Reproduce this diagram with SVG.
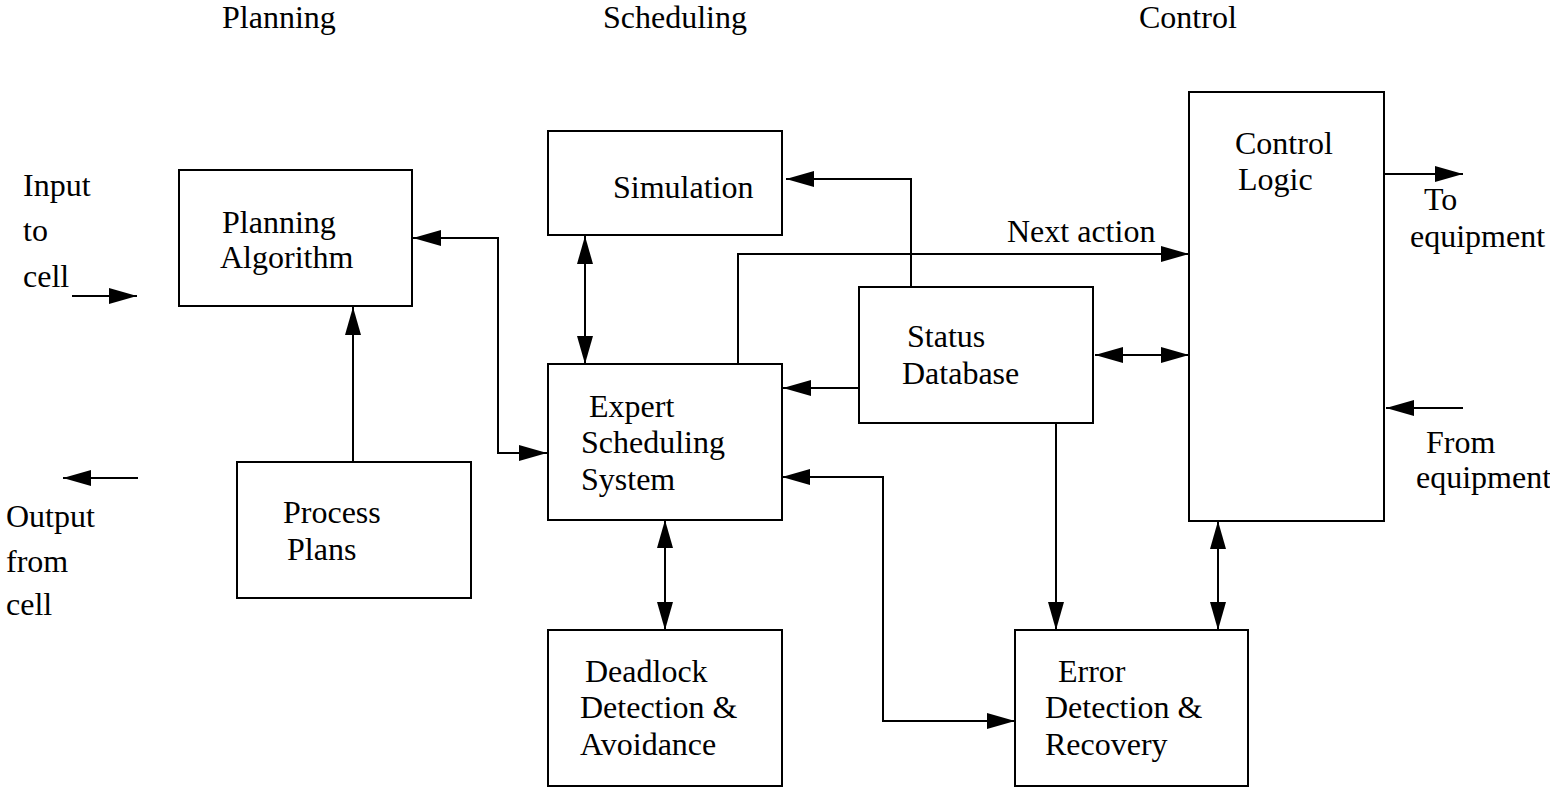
<svg xmlns="http://www.w3.org/2000/svg" width="1550" height="788" viewBox="0 0 1550 788">
  <style>
    text { font-family: "Liberation Serif", "Times New Roman", serif; font-size: 32px; fill: #000; }
    .box { fill: #fff; stroke: #000; stroke-width: 2; }
    .wire { fill: none; stroke: #000; stroke-width: 2; }
  </style>
  <defs>
    <marker id="arrow" markerUnits="userSpaceOnUse" markerWidth="29" markerHeight="17" refX="28" refY="8" orient="auto-start-reverse" viewBox="0 0 29 17">
      <path d="M0,0 L28,8 L0,16 Z" fill="#000"/>
    </marker>
  </defs>

  <rect width="1550" height="788" fill="#fff"/>

  <!-- column headings -->
  <g id="headings">
    <text x="222" y="28">Planning</text>
    <text x="603" y="28">Scheduling</text>
    <text x="1139" y="28">Control</text>
  </g>

  <!-- cell inputs / outputs -->
  <g id="cell-io">
    <text x="23" y="196">Input</text>
    <text x="23" y="241">to</text>
    <text x="23" y="287">cell</text>
    <text x="6" y="527">Output</text>
    <text x="6" y="572">from</text>
    <text x="6" y="615">cell</text>
    <text x="1424" y="210">To</text>
    <text x="1410" y="247">equipment</text>
    <text x="1426" y="453">From</text>
    <text x="1416" y="488">equipment</text>
  </g>

  <g id="planning-algorithm">
    <rect class="box" x="179" y="170" width="233" height="136"/>
    <text x="222" y="233">Planning</text>
    <text x="220" y="268">Algorithm</text>
  </g>

  <g id="process-plans">
    <rect class="box" x="237" y="462" width="234" height="136"/>
    <text x="283" y="523">Process</text>
    <text x="287" y="560">Plans</text>
  </g>

  <g id="simulation">
    <rect class="box" x="548" y="131" width="234" height="104"/>
    <text x="613" y="198">Simulation</text>
  </g>

  <g id="expert-scheduling">
    <rect class="box" x="548" y="364" width="234" height="156"/>
    <text x="589" y="417">Expert</text>
    <text x="581" y="453">Scheduling</text>
    <text x="581" y="490">System</text>
  </g>

  <g id="deadlock">
    <rect class="box" x="548" y="630" width="234" height="156"/>
    <text x="585" y="682">Deadlock</text>
    <text x="580" y="718">Detection &amp;</text>
    <text x="580" y="755">Avoidance</text>
  </g>

  <g id="status-database">
    <rect class="box" x="859" y="287" width="234" height="136"/>
    <text x="907" y="347">Status</text>
    <text x="902" y="384">Database</text>
  </g>

  <g id="control-logic">
    <rect class="box" x="1189" y="92" width="195" height="429"/>
    <text x="1235" y="154">Control</text>
    <text x="1238" y="190">Logic</text>
  </g>

  <g id="error-recovery">
    <rect class="box" x="1015" y="630" width="233" height="156"/>
    <text x="1058" y="682">Error</text>
    <text x="1045" y="718">Detection &amp;</text>
    <text x="1045" y="755">Recovery</text>
  </g>

  <g id="connectors">
    <path class="wire" d="M72,296 H137" marker-end="url(#arrow)"/>
    <path class="wire" d="M138,478 H63" marker-end="url(#arrow)"/>
    <path class="wire" d="M353,462 V307" marker-end="url(#arrow)"/>
    <path class="wire" d="M413,238 H498 V453 H547" marker-start="url(#arrow)" marker-end="url(#arrow)"/>
    <path class="wire" d="M585,236 V364" marker-start="url(#arrow)" marker-end="url(#arrow)"/>
    <path class="wire" d="M911,287 V179 H786" marker-end="url(#arrow)"/>
    <path class="wire" d="M738,364 V254 H1189" marker-end="url(#arrow)"/>
    <text x="1007" y="242">Next action</text>
    <path class="wire" d="M859,388 H783" marker-end="url(#arrow)"/>
    <path class="wire" d="M1095,355 H1189" marker-start="url(#arrow)" marker-end="url(#arrow)"/>
    <path class="wire" d="M782,477 H883 V721 H1015" marker-start="url(#arrow)" marker-end="url(#arrow)"/>
    <path class="wire" d="M665,520 V630" marker-start="url(#arrow)" marker-end="url(#arrow)"/>
    <path class="wire" d="M1056,423 V630" marker-end="url(#arrow)"/>
    <path class="wire" d="M1218,521 V630" marker-start="url(#arrow)" marker-end="url(#arrow)"/>
    <path class="wire" d="M1384,174 H1463" marker-end="url(#arrow)"/>
    <path class="wire" d="M1463,408 H1386" marker-end="url(#arrow)"/>
  </g>
</svg>
